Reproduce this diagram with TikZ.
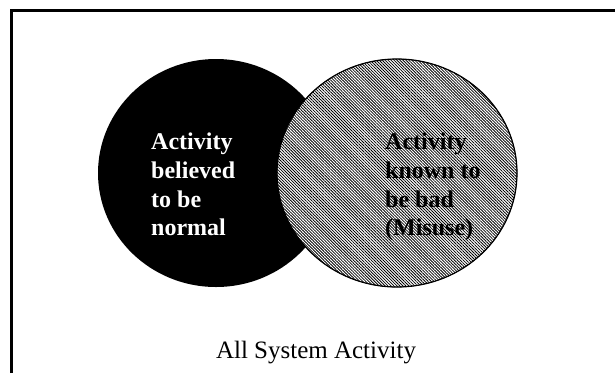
\documentclass[tikz,border=0pt]{standalone}
\usepackage{fontspec}
\setmainfont{Liberation Serif}
\usepackage{tikz}
\usetikzlibrary{patterns.meta}

\begin{document}
\begin{tikzpicture}[x=1pt,y=-1pt,
		vennlabel/.style={anchor=north west, inner sep=0pt, align=left,
			font=\fontsize{24}{28.7}\selectfont\bfseries}]
				\useasboundingbox (0,0) rectangle (615,373);

				% frame, open at the right and the bottom
				\draw [line width=3pt] (11,373) -- (11,10) -- (615,10);

				% the two sets
				\fill [black] (216,173) ellipse (118 and 114);
				\draw [fill=white] (397,173) ellipse (120 and 114);
				\fill [pattern={Lines[angle=-45, distance=2.1pt, line width=0.8pt]}] (397,173) ellipse (120 and 114);
				\draw [line width=1.2pt] (397,173) ellipse (120 and 114);

				\node [vennlabel, text=white] (normal) at (151,133) {Activity\\believed\\to be\\normal};
				\node [vennlabel] (misuse) at (385,133) {Activity\\known to\\be bad\\(Misuse)};

				\node [anchor=base, font=\fontsize{25}{30}\selectfont] (all) at (316,358) {All System Activity};
				\end{tikzpicture}
\end{document}
